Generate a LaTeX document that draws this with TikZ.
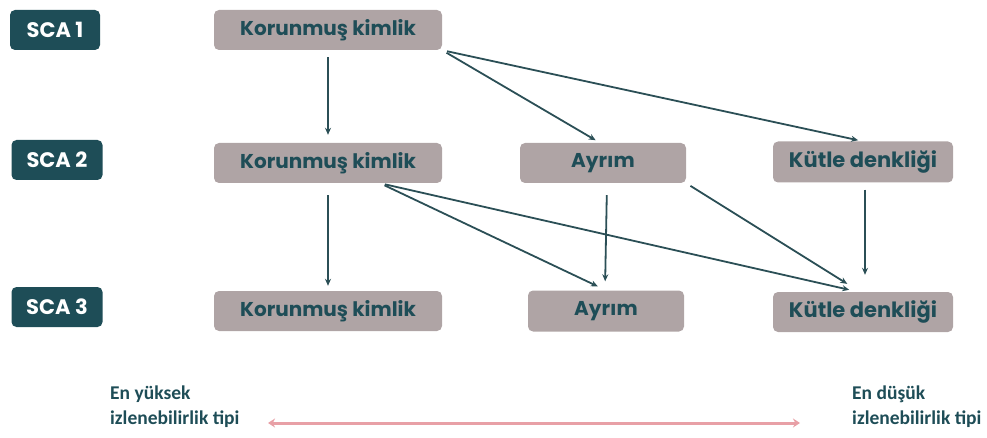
\documentclass[tikz,border=0pt]{standalone}
\usepackage{fontspec}
\setmainfont{Poppins}
\newfontfamily\lowfont{Carlito}
\usetikzlibrary{arrows.meta}
\definecolor{teal}{HTML}{1E4D57}
\definecolor{boxgray}{HTML}{AFA4A5}
\definecolor{arrteal}{HTML}{2B4F56}
\definecolor{pinkred}{HTML}{E8A0A6}
\begin{document}
\begin{tikzpicture}[x=1pt,y=-1pt,
  sca/.style={fill=teal,rounded corners=5pt,text=white,font=\fontsize{21}{24}\selectfont\bfseries,minimum height=40pt,inner sep=0pt},
  gbox/.style={fill=boxgray,rounded corners=5pt,text=teal,font=\fontsize{20}{24}\selectfont\bfseries,minimum height=40pt,inner sep=0pt},
  conn/.style={draw=arrteal,line width=1.8pt,-{Stealth[length=7pt,width=6pt]}},
  lowtxt/.style={text=teal,font=\lowfont\fontsize{19.5}{25}\selectfont\bfseries,align=left,anchor=north west,inner sep=0pt}
]
\useasboundingbox (0,0) rectangle (987,438);
\node[sca,minimum width=90pt] (s1) at (55,30) {SCA 1};
\node[sca,minimum width=91pt] (s2) at (57,160) {SCA 2};
\node[sca,minimum width=91pt] (s3) at (57,307) {SCA 3};

\node[gbox,minimum width=228pt] (k1) at (328,30) {Korunmuş kimlik};
\node[gbox,minimum width=228pt] (k2) at (328,163) {Korunmuş kimlik};
\node[gbox,minimum width=166pt] (a2) at (603,163) {Ayrım};
\node[gbox,minimum width=180pt,minimum height=41pt,font=\fontsize{21}{24}\selectfont\bfseries] (m2) at (863,162) {Kütle denkliği};
\node[gbox,minimum width=228pt] (k3) at (328,311) {Korunmuş kimlik};
\node[gbox,minimum width=156pt,minimum height=41pt] (a3) at (606,311) {Ayrım};
\node[gbox,minimum width=180pt,font=\fontsize{21}{24}\selectfont\bfseries] (m3) at (863,312) {Kütle denkliği};

\draw[conn,shorten <=7pt,shorten >=8pt] (k1.south) -- (k2.north);
\draw[conn,shorten <=5pt,shorten >=5pt] (k1.south east) -- ([xshift=-3pt]a2.north);
\draw[conn,shorten <=5pt,shorten >=5pt] (k1.south east) -- (m2.north);
\draw[conn,shorten <=12pt,shorten >=5pt] (k2.south) -- (k3.north);
\draw[conn,shorten <=5pt,shorten >=9pt] ([xshift=52pt]k2.south) -- (a3.north);
\draw[conn,shorten <=5pt,shorten >=9pt] ([xshift=52pt]k2.south) -- ([xshift=-5pt]m3.north);
\draw[conn,shorten <=12pt,shorten >=9pt] ([xshift=4pt]a2.south) -- ([xshift=-1pt]a3.north);
\draw[conn,shorten <=5pt,shorten >=15pt] (a2.south east) -- ([xshift=-3pt]m3.north);
\draw[conn,shorten <=7pt,shorten >=17pt] ([xshift=2pt]m2.south) -- ([xshift=2pt]m3.north);

\node[lowtxt] (lt) at (110,386) {En yüksek\\izlenebilirlik tipi};
\node[lowtxt] (rt) at (852,386) {En düşük\\izlenebilirlik tipi};
\coordinate (la) at (268,423);
\coordinate (ra) at (800,423);
\draw[pinkred,line width=3pt,{Stealth[length=7pt,width=9pt]}-{Stealth[length=7pt,width=9pt]}] (la) -- (ra);
\end{tikzpicture}
\end{document}
